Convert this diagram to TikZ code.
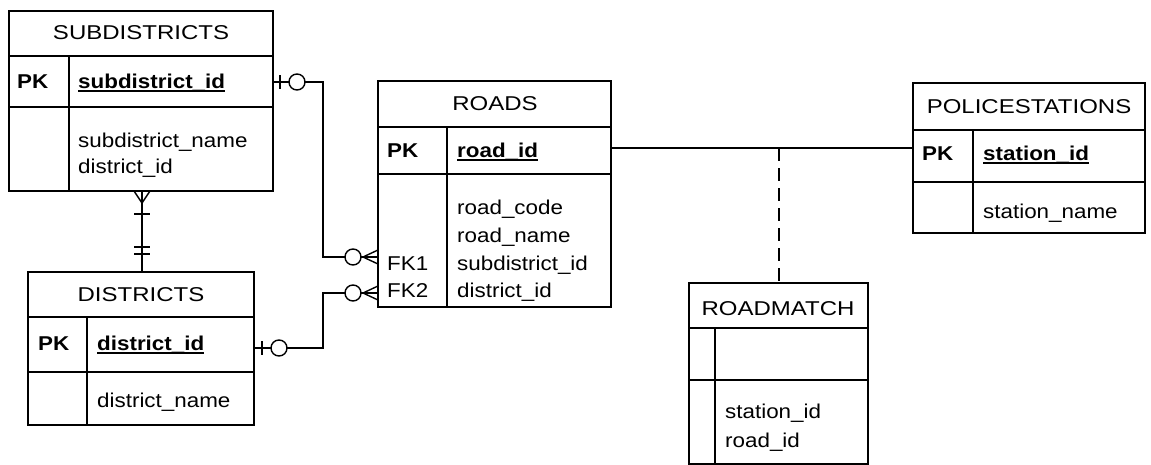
\documentclass[tikz,border=0pt]{standalone}
\usepackage{fontspec}
\setmainfont{Liberation Sans}[FakeStretch=1.12]
\newfontfamily\ttlfont{Liberation Sans}[FakeStretch=1.2]
\begin{document}
\begin{tikzpicture}[x=1pt,y=-1pt,
  tbl/.style={draw, line width=1.6pt, inner sep=0pt, outer sep=0pt, anchor=north west},
  sep/.style={line width=1.6pt},
  conn/.style={line width=1.4pt},
  ttl/.style={anchor=base, inner sep=0pt, font=\ttlfont\fontsize{20}{24}\selectfont},
  txt/.style={anchor=base west, inner sep=0pt, font=\fontsize{20}{24}\selectfont},
  pk/.style={txt, font=\fontsize{20}{24}\selectfont\bfseries},
  ring/.style={draw, line width=1.4pt, fill=white, circle, minimum size=16pt, inner sep=0pt},
  ul/.style={line width=1.4pt}
]
\useasboundingbox (0,0) rectangle (1151,464);

% ---------- SUBDISTRICTS
\node[tbl, minimum width=264pt, minimum height=180pt] (sub) at (9,11) {};
\draw[sep] (sub.west |- 0,56) -- (sub.east |- 0,56);
\draw[sep] (sub.west |- 0,107) -- (sub.east |- 0,107);
\draw[sep] (69,56) -- (69,191);
\node[ttl] (subT) at (141,39) {SUBDISTRICTS};
\node[pk] (subPK) at (17,88) {PK};
\node[pk] (subK) at (78,88) {subdistrict\_id};
\draw[ul] ([yshift=-3pt]subK.base west) -- ([yshift=-3pt]subK.base east);
\node[txt] (subA1) at (78,147) {subdistrict\_name};
\node[txt] (subA2) at (78,173) {district\_id};

% ---------- DISTRICTS
\node[tbl, minimum width=226pt, minimum height=153pt] (dis) at (28,272) {};
\draw[sep] (dis.west |- 0,317) -- (dis.east |- 0,317);
\draw[sep] (dis.west |- 0,372) -- (dis.east |- 0,372);
\draw[sep] (87,317) -- (87,425);
\node[ttl] (disT) at (141,301) {DISTRICTS};
\node[pk] (disPK) at (38,350) {PK};
\node[pk] (disK) at (97,350) {district\_id};
\draw[ul] ([yshift=-3pt]disK.base west) -- ([yshift=-3pt]disK.base east);
\node[txt] (disA1) at (97,407) {district\_name};

% ---------- ROADS
\node[tbl, minimum width=233pt, minimum height=226pt] (roads) at (378,81) {};
\draw[sep] (roads.west |- 0,127) -- (roads.east |- 0,127);
\draw[sep] (roads.west |- 0,174) -- (roads.east |- 0,174);
\draw[sep] (447,127) -- (447,307);
\node[ttl] (roadsT) at (495,110) {ROADS};
\node[pk] (roadsPK) at (387,157) {PK};
\node[pk] (roadsK) at (457,157) {road\_id};
\draw[ul] ([yshift=-3pt]roadsK.base west) -- ([yshift=-3pt]roadsK.base east);
\node[txt] (roadsA1) at (457,214) {road\_code};
\node[txt] (roadsA2) at (457,242) {road\_name};
\node[txt] (roadsA3) at (457,270) {subdistrict\_id};
\node[txt] (roadsA4) at (457,297) {district\_id};
\node[txt] (fk1) at (387,270) {FK1};
\node[txt] (fk2) at (387,297) {FK2};

% ---------- POLICESTATIONS
\node[tbl, minimum width=232pt, minimum height=150pt] (pol) at (913,83) {};
\draw[sep] (pol.west |- 0,130) -- (pol.east |- 0,130);
\draw[sep] (pol.west |- 0,182) -- (pol.east |- 0,182);
\draw[sep] (973,130) -- (973,233);
\node[ttl] (polT) at (1029,113) {POLICESTATIONS};
\node[pk] (polPK) at (922,160) {PK};
\node[pk] (polK) at (983,160) {station\_id};
\draw[ul] ([yshift=-3pt]polK.base west) -- ([yshift=-3pt]polK.base east);
\node[txt] (polA1) at (983,218) {station\_name};

% ---------- ROADMATCH
\node[tbl, minimum width=179pt, minimum height=181pt] (rm) at (689,283) {};
\draw[sep] (rm.west |- 0,328) -- (rm.east |- 0,328);
\draw[sep] (rm.west |- 0,380) -- (rm.east |- 0,380);
\draw[sep] (715,328) -- (715,464);
\node[ttl] (rmT) at (778,315) {ROADMATCH};
\node[txt] (rmA1) at (725,418) {station\_id};
\node[txt] (rmA2) at (725,447) {road\_id};

% ---------- connection points
\coordinate (subR) at (sub.east |- 0,82);
\coordinate (subB) at (142,191);
\coordinate (disT0) at (142,272);
\coordinate (disR) at (dis.east |- 0,348);
\coordinate (roadsL1) at (roads.west |- 0,257);
\coordinate (roadsL2) at (roads.west |- 0,293);
\coordinate (roadsR) at (roads.east |- 0,148);
\coordinate (polL) at (pol.west |- 0,148);
\coordinate (junc) at (779,148);
\coordinate (rmT0) at (rm.north -| junc);

% SUBDISTRICTS -> ROADS (FK1)
\draw[conn] (subR) -- (323,82) -- (323,257) -- (roadsL1);
\draw[conn] ([xshift=7pt]subR) ++(0,-7) -- ++(0,14);
\node[ring] (c1) at (297,82) {};
\draw[conn] (363,257) -- ([yshift=7pt]roadsL1);
\draw[conn] (363,257) -- ([yshift=-7pt]roadsL1);
\node[ring] (c2) at (353,257) {};

% DISTRICTS -> ROADS (FK2)
\draw[conn] (disR) -- (323,348) -- (323,293) -- (roadsL2);
\draw[conn] ([xshift=8pt]disR) ++(0,-7) -- ++(0,14);
\node[ring] (c3) at (279,348) {};
\draw[conn] (363,293) -- ([yshift=7pt]roadsL2);
\draw[conn] (363,293) -- ([yshift=-7pt]roadsL2);
\node[ring] (c4) at (353,293) {};

% SUBDISTRICTS -- DISTRICTS
\draw[conn] (subB) -- (disT0);
\draw[conn] (142,203) -- ([xshift=-8pt]subB);
\draw[conn] (142,203) -- ([xshift=8pt]subB);
\draw[conn] (134,214) -- (150,214);
\draw[conn] (134,247) -- (150,247);
\draw[conn] (134,254) -- (150,254);

% ROADS -- POLICESTATIONS, dashed to ROADMATCH
\draw[conn] (roadsR) -- (polL);
\draw[conn, dash pattern=on 13pt off 7pt] (junc) -- (rmT0);
\end{tikzpicture}
\end{document}
